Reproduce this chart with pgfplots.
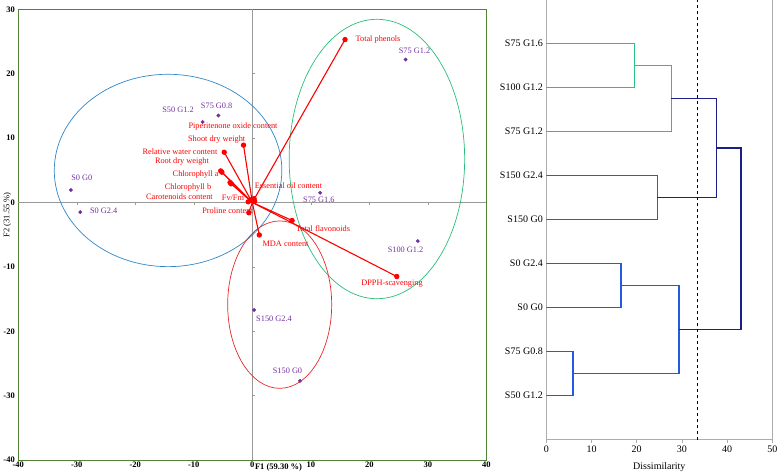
\documentclass[border=0pt]{standalone}
\usepackage{fontspec}
\setmainfont{Liberation Serif}
\usepackage{pgfplots}
\pgfplotsset{compat=1.18}
\definecolor{frameg}{RGB}{84,130,53}
\definecolor{ptpurple}{RGB}{112,48,160}
\definecolor{vecred}{RGB}{255,0,0}
\definecolor{ellblue}{RGB}{45,135,200}
\definecolor{ellgreen}{RGB}{40,190,120}
\definecolor{ellred}{RGB}{230,40,40}
\definecolor{dendgreen}{RGB}{40,195,130}
\definecolor{dendred}{RGB}{225,25,75}
\definecolor{dendblue}{RGB}{35,90,225}
\definecolor{dendnavy}{RGB}{30,30,135}
\begin{document}
\begin{tikzpicture}
\path[use as bounding box] (0,0) rectangle (778pt,474pt);
% ---------------- PCA biplot ----------------
\begin{axis}[
  scale only axis, width=468pt, height=450.7pt,
  at={(18.3pt,14pt)}, anchor=south west,
  xmin=-40, xmax=40, ymin=-40, ymax=30,
  xtick={-40,-30,...,40}, ytick={-40,-30,...,30},
  major tick length=0pt,
  axis line style={frameg, line width=0.9pt},
  tick label style={font=\bfseries\fontsize{8.5}{10}\selectfont},
  /pgf/number format/assume math mode=true,
  xticklabel style={yshift=2pt},
  xlabel={\textbf{F1 (59.30 \%)}},
  xlabel style={at={(axis description cs:0.556,0)}, anchor=center, yshift=-7pt, font=\fontsize{8.5}{10}\selectfont},
  ylabel={F2 (31.55 \%)},
  ylabel style={at={([xshift=-11pt]axis description cs:0,0.544)}, anchor=center, font=\fontsize{8.5}{10}\selectfont},
  clip=false,
]
% zero lines
\draw[gray!80, line width=0.6pt] (axis cs:-40,0) -- (axis cs:40,0);
\draw[gray!80, line width=0.6pt] (axis cs:0,-40) -- (axis cs:0,30);
\pgfplotsinvokeforeach{-30,-20,-10,10,20}{\draw[gray!80, line width=0.6pt] (axis cs:0,#1) -- ([xshift=3pt]axis cs:0,#1);}
\pgfplotsinvokeforeach{-30,-20,-10,10,20,30}{\draw[gray!80, line width=0.6pt] (axis cs:#1,0) -- ([yshift=-3pt]axis cs:#1,0);}
% ellipses
\draw[ellblue, line width=0.7pt] (axis cs:-14.4,4.97) ellipse [x radius=19.45, y radius=14.94];
\draw[ellgreen, line width=0.7pt] (axis cs:21.3,6.75) ellipse [x radius=15.0, y radius=21.7];
\draw[ellred, line width=0.7pt] (axis cs:4.68,-15.87) ellipse [x radius=8.89, y radius=13.0];
% observations
\addplot[only marks, mark=*, mark size=1.7pt, ptpurple] table {
x y
-31.0 1.94
-29.4 -1.5
-8.5 12.5
-5.8 13.5
26.2 22.2
11.6 1.5
28.3 -6.0
0.3 -16.7
8.15 -27.7
};
% variables
\addplot[vecred, line width=1.1pt, mark=*, mark size=2.1pt, mark indices={2}] coordinates {(0,0) (15.85,25.3)};
\addplot[vecred, line width=1.1pt, mark=*, mark size=2.1pt, mark indices={2}] coordinates {(0,0) (24.7,-11.5)};
\addplot[vecred, line width=1.1pt, mark=*, mark size=2.1pt, mark indices={2}] coordinates {(0,0) (6.8,-2.8)};
\addplot[vecred, line width=1.1pt, mark=*, mark size=2.1pt, mark indices={2}] coordinates {(0,0) (1.2,-5.05)};
\addplot[vecred, line width=1.1pt, mark=*, mark size=2.1pt, mark indices={2}] coordinates {(0,0) (-1.5,8.9)};
\addplot[vecred, line width=1.1pt, mark=*, mark size=2.1pt, mark indices={2}] coordinates {(0,0) (-4.8,7.8)};
\addplot[vecred, line width=1.1pt, mark=*, mark size=2.1pt, mark indices={2}] coordinates {(0,0) (-5.2,4.7)};
\addplot[vecred, line width=1.1pt, mark=*, mark size=2.1pt, mark indices={2}] coordinates {(0,0) (-5.4,4.9)};
\addplot[vecred, line width=1.1pt, mark=*, mark size=2.1pt, mark indices={2}] coordinates {(0,0) (-3.8,3.1)};
\addplot[vecred, line width=1.1pt, mark=*, mark size=2.1pt, mark indices={2}] coordinates {(0,0) (-3.6,2.9)};
\addplot[vecred, line width=1.1pt, mark=*, mark size=2.1pt, mark indices={2}] coordinates {(0,0) (-0.7,0.1)};
\addplot[vecred, line width=1.1pt, mark=*, mark size=2.1pt, mark indices={2}] coordinates {(0,0) (-0.3,0.4)};
\addplot[vecred, line width=1.1pt, mark=*, mark size=2.1pt, mark indices={2}] coordinates {(0,0) (-0.6,-1.6)};
\addplot[vecred, line width=1.1pt, mark=*, mark size=2.1pt, mark indices={2}] coordinates {(0,0) (0.3,0.6)};
\addplot[vecred, line width=1.1pt, mark=*, mark size=2.1pt, mark indices={2}] coordinates {(0,0) (0.4,0.2)};
% variable labels
\begin{scope}[vecred, every node/.style={font=\fontsize{8.3}{10}\selectfont, inner sep=0.5pt}]
\node at (axis cs:21.49,25.34) {Total phenols};
\node at (axis cs:-3.30,11.72) {Piperitenone oxide content};
\node at (axis cs:-6.09,9.81) {Shoot dry weight};
\node at (axis cs:-12.36,7.95) {Relative water content};
\node at (axis cs:-12.02,6.29) {Root dry weight};
\node at (axis cs:-9.68,4.32) {Chlorophyll a};
\node at (axis cs:-10.99,2.36) {Chlorophyll b};
\node at (axis cs:-12.45,0.85) {Carotenoids content};
\node at (axis cs:-3.30,0.70) {Fv/Fm};
\node at (axis cs:6.19,2.56) {Essential oil content};
\node at (axis cs:-4.24,-1.32) {Proline content};
\node at (axis cs:12.09,-4.11) {Total flavonoids};
\node at (axis cs:5.68,-6.40) {MDA content};
\node at (axis cs:23.88,-12.61) {DPPH-scavenging};
\end{scope}
% observation labels
\begin{scope}[ptpurple, every node/.style={font=\fontsize{8.3}{10}\selectfont, inner sep=0.5pt}]
\node at (axis cs:-29.15,3.76) {S0 G0};
\node at (axis cs:-25.4,-1.37) {S0 G2.4};
\node at (axis cs:-12.7,14.36) {S50 G1.2};
\node at (axis cs:-6.09,14.94) {S75 G0.8};
\node at (axis cs:27.73,23.52) {S75 G1.2};
\node at (axis cs:11.37,0.34) {S75 G1.6};
\node at (axis cs:26.19,-7.33) {S100 G1.2};
\node at (axis cs:3.71,-18.09) {S150 G2.4};
\node at (axis cs:6.02,-26.21) {S150 G0};
\end{scope}
\end{axis}
% ---------------- Dendrogram ----------------
\begin{axis}[
  scale only axis, width=226pt, height=440pt,
  at={(546.3pt,34.3pt)}, anchor=south west,
  xmin=0, xmax=50, ymin=0, ymax=10,
  xtick={0,10,...,50}, ytick={1,...,9},
  yticklabels={S50 G1.2,S75 G0.8,S0 G0,S0 G2.4,S150 G0,S150 G2.4,S75 G1.2,S100 G1.2,S75 G1.6},
  axis line style={gray!65, line width=0.9pt},
  tick align=outside, xtick pos=bottom, ytick pos=left,
  major tick length=3pt,
  xtick style={gray!65, line width=0.8pt},
  ytick style={draw=none},
  tick label style={font=\fontsize{10}{12}\selectfont},
  /pgf/number format/assume math mode=true,
  yticklabel style={xshift=3pt},
  xlabel={Dissimilarity},
  xlabel style={font=\fontsize{10}{12}\selectfont, at={(axis description cs:0.5,0)}, anchor=center, yshift=-27pt},
  every axis plot/.append style={line width=1.5pt, no marks},
]
\addplot[draw=dendred, line width=1.5pt] coordinates {(0,6) (24.55,6) (24.55,5) (0,5)};
\addplot[draw=dendgreen, line width=1.5pt] coordinates {(0,9) (19.55,9) (19.55,8) (0,8)};
\addplot[draw=dendgreen, line width=1.5pt] coordinates {(19.55,8.5) (27.66,8.5) (27.66,7) (0,7)};
\addplot[draw=dendblue, line width=1.5pt] coordinates {(0,4) (16.5,4) (16.5,3) (0,3)};
\addplot[draw=dendblue, line width=1.5pt] coordinates {(0,2) (5.9,2) (5.9,1) (0,1)};
\addplot[draw=dendblue, line width=1.5pt] coordinates {(16.5,3.5) (29.4,3.5) (29.4,1.5) (5.9,1.5)};
\addplot[draw=dendnavy, line width=1.5pt] coordinates {(27.66,7.75) (37.6,7.75) (37.6,5.5) (24.55,5.5)};
\addplot[draw=dendnavy, line width=1.5pt] coordinates {(37.6,6.625) (43.1,6.625) (43.1,2.5) (29.4,2.5)};
\addplot[draw=black, line width=1pt, dashed] coordinates {(33.5,0) (33.5,10)};
\end{axis}
\end{tikzpicture}
\end{document}
